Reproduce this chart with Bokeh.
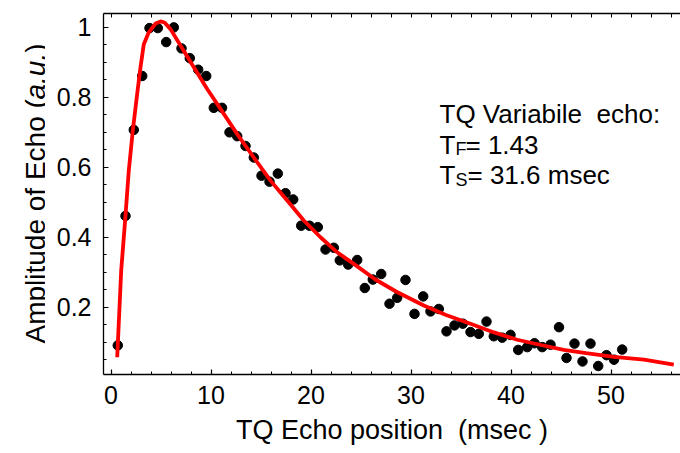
import numpy as np
from bokeh.plotting import figure
from bokeh.layouts import row
from bokeh.models import Range1d, LinearAxis, FixedTicker, Label
from bokeh.embed import file_html
from bokeh.resources import INLINE

# ---- data ----
echo_x = [0.68, 1.45, 2.28, 3.12, 3.85, 4.68, 5.52, 6.28, 7.05, 7.88, 8.72, 9.52,
          10.28, 11.1, 11.85, 12.62, 13.45, 14.28, 15.05, 15.85, 16.68, 17.45, 18.22,
          19.02, 19.85, 20.68, 21.45, 22.28, 22.88, 23.72, 24.62, 25.38, 26.18, 27.02,
          27.85, 28.62, 29.45, 30.35, 31.22, 31.95, 32.78, 33.55, 34.35, 35.18, 35.95,
          36.78, 37.55, 38.28, 39.12, 39.95, 40.72, 41.62, 42.35, 43.12, 43.95, 44.8,
          45.55, 46.35, 47.15, 47.95, 48.72, 49.55, 50.3, 51.12]
echo_y = [0.091, 0.461, 0.707, 0.861, 0.998, 0.998, 0.958, 1.0, 0.94, 0.912, 0.879, 0.861,
          0.77, 0.77, 0.70, 0.689, 0.661, 0.628, 0.576, 0.559, 0.582, 0.526, 0.508,
          0.433, 0.433, 0.429, 0.365, 0.37, 0.334, 0.322, 0.335, 0.255, 0.279, 0.295,
          0.21, 0.227, 0.278, 0.181, 0.231, 0.188, 0.195, 0.131, 0.148, 0.153, 0.129,
          0.124, 0.159, 0.117, 0.113, 0.121, 0.078, 0.086, 0.097, 0.086, 0.093, 0.143,
          0.055, 0.096, 0.045, 0.096, 0.032, 0.063, 0.05, 0.079]

fit_x = [0.62, 1.02, 1.45, 1.78, 2.18, 2.62, 2.95, 3.28, 3.78, 4.45, 4.95, 5.35, 5.95,
         6.95, 8.28, 9.62, 10.95, 12.62, 14.28, 15.95, 17.62, 19.28, 20.95, 22.62,
         24.28, 26.4, 28.5, 31.28, 33.5, 35.95, 38.3, 40.62, 43.0, 45.28, 47.5, 50.28,
         53.3, 56.28]
fit_y = [0.057, 0.305, 0.462, 0.591, 0.705, 0.81, 0.886, 0.952, 0.986, 1.011, 1.017,
         1.014, 0.995, 0.948, 0.886, 0.824, 0.767, 0.695, 0.628, 0.562, 0.505, 0.448,
         0.4, 0.357, 0.324, 0.28, 0.245, 0.205, 0.178, 0.153, 0.128, 0.107, 0.092,
         0.078, 0.069, 0.058, 0.05, 0.036]

x_ticks = [0, 10, 20, 30, 40, 50]
x_minor = [float(v) for v in np.arange(0.0, 57.0, 2.0)]
y_ticks = [0.2, 0.4, 0.6, 0.8, 1.0]
y_tick_labels = ["0.2", "0.4", "0.6", "0.8", "1"]
y_minor = [round(float(v), 2) for v in np.arange(0.05, 1.04, 0.05)]

NB = "\u00a0"
x_title = "TQ Echo position" + NB + " (msec" + NB + ")"
y_title_parts = ["Amplitude of Echo (", "a.u.", ")"]
info_title = "TQ Variabile" + NB + " echo:"
tf_sub, tf_text = "F", "= 1.43"
ts_sub, ts_text = "S", "= 31.6 msec"

FONT = "Liberation Sans"

W, H = 680, 453
LW = 45                      # width of the strip holding the rotated y title
X0, X1 = -0.75, 56.95
Y0, Y1 = 0.0077, 1.0397
FL, FT, FB = 103, 13, 374    # frame left / top / bottom in page pixels


def dx(px):
    return X0 + (px - FL) * (X1 - X0) / (W - FL)


def dy(py):
    return Y0 + (FB - py) * (Y1 - Y0) / (FB - FT)


# ---- strip with the y-axis title (its frame is aligned with the main frame) ----
side = figure(width=LW, height=H, output_backend="svg", toolbar_location=None,
              x_range=Range1d(0, LW), y_range=Range1d(H - FB, H - FT),
              min_border_left=0, min_border_right=0, min_border_top=FT,
              min_border_bottom=H - FB, x_axis_location=None, y_axis_location=None)
side.outline_line_color = None
side.grid.visible = False

for txt, py, style_ in [(y_title_parts[0], 343, "normal"),
                        (y_title_parts[1], 99, "italic"),
                        (y_title_parts[2], 52.3, "normal")]:
    side.add_layout(Label(x=35, y=H - py, text=txt, angle=np.pi / 2,
                          text_font=FONT, text_font_size="28px",
                          text_font_style=style_, text_color="black",
                          text_align="left", text_baseline="alphabetic"))

# ---- main plot ----
p = figure(width=W - LW, height=H, output_backend="svg", toolbar_location=None,
           x_range=Range1d(X0, X1), y_range=Range1d(Y0, Y1),
           min_border_left=FL - LW, min_border_right=0, min_border_top=FT,
           min_border_bottom=H - FB)
p.outline_line_color = None
p.grid.visible = False
p.background_fill_color = "white"
p.border_fill_color = "white"

top_axis = LinearAxis()
p.add_layout(top_axis, "above")


def style(ax, ticks, minor):
    ax.ticker = FixedTicker(ticks=ticks, minor_ticks=minor)
    ax.axis_line_color = "black"
    ax.axis_line_width = 1.3
    ax.major_tick_in = 5
    ax.major_tick_out = 0
    ax.minor_tick_in = 3
    ax.minor_tick_out = 0
    ax.major_tick_line_color = "black"
    ax.minor_tick_line_color = "black"
    ax.major_tick_line_width = 1.2
    ax.minor_tick_line_width = 1.0
    ax.major_label_text_font = FONT
    ax.major_label_text_font_size = "25px"
    ax.major_label_text_color = "black"


xa = p.below[0]
ya = p.left[0]
style(xa, x_ticks, x_minor)
style(ya, y_ticks, y_minor)
# top edge: ticks only, no labels
style(top_axis, [], x_minor)
top_axis.minor_tick_in = 4
top_axis.major_label_standoff = 0

xa.major_label_standoff = 11
xa.axis_label = x_title
xa.axis_label_text_font = FONT
xa.axis_label_text_font_size = "27px"
xa.axis_label_text_font_style = "normal"
xa.axis_label_text_color = "black"
xa.axis_label_standoff = 8

ya.major_label_standoff = 12
ya.major_label_overrides = {t: s for t, s in zip(y_ticks, y_tick_labels)}

p.scatter(echo_x, echo_y, size=9.5, color="black")
p.line(fit_x, fit_y, line_color="red", line_width=3.8)


def add_text(px, py, txt, size):
    p.add_layout(Label(x=dx(px), y=dy(py), text=txt, text_font=FONT,
                       text_font_size=size, text_color="black",
                       text_align="left", text_baseline="alphabetic"))


add_text(439, 113.3, info_title, "26px")
add_text(439, 144, "T", "26px")
add_text(455, 148.5, tf_sub, "18px")
add_text(465, 144, tf_text, "26px")
add_text(439, 174.5, "T", "26px")
add_text(455, 179, ts_sub, "18px")
add_text(467, 174.5, ts_text, "26px")

layout = row(side, p, spacing=0)
open("out.html", "w").write(file_html(layout, INLINE))
